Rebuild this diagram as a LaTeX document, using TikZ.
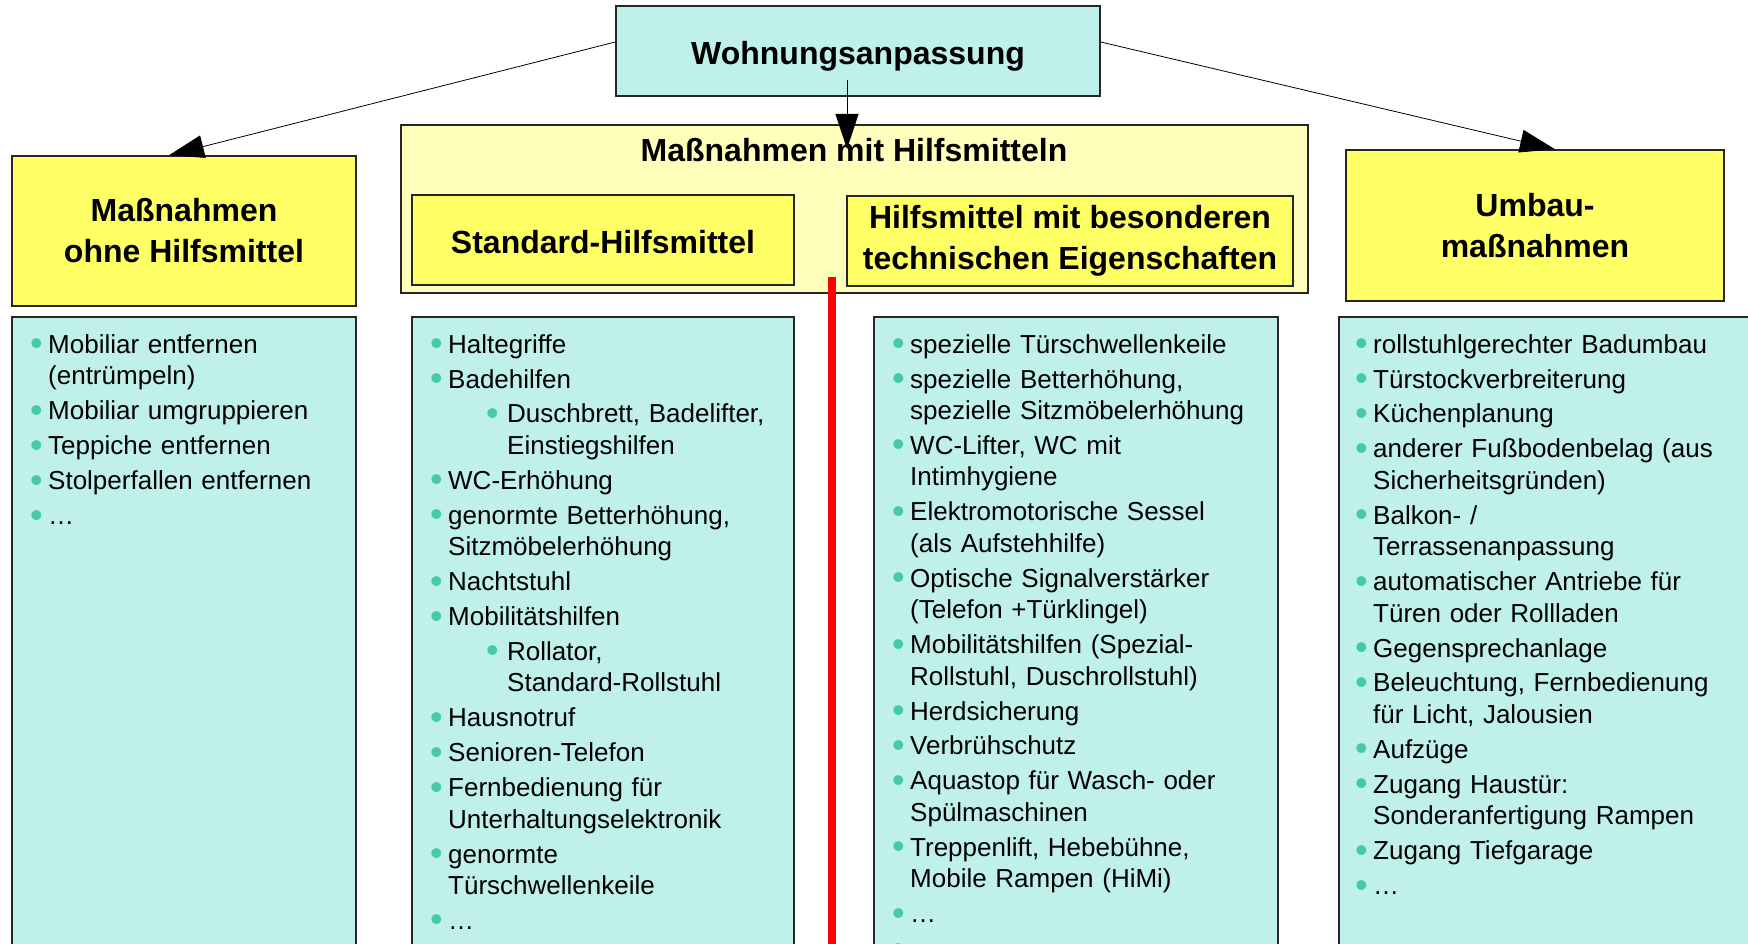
\documentclass[tikz,border=0pt]{standalone}
\usepackage{fontspec}
\setmainfont{Liberation Sans}
\usepackage{xcolor}
\usepackage{graphicx}
\usetikzlibrary{arrows.meta}

\definecolor{boxcyan}{RGB}{191,240,233}
\definecolor{boxyellow}{RGB}{255,255,102}
\definecolor{paleyellow}{RGB}{255,255,187}
\definecolor{bulcol}{RGB}{70,200,175}

% bullets for the lists
\newcommand{\bul}{\textcolor{bulcol}{\raisebox{-2.5pt}{\fontsize{36}{36}\selectfont •}}}
\newcommand{\itm}{\par\leftskip=36pt\relax\strut\llap{\bul\hspace{5.5pt}}}
\newcommand{\sitm}{\par\leftskip=95pt\relax\strut\llap{\bul\hspace{8.5pt}}}

\begin{document}
\begin{tikzpicture}[x=1pt,y=-1pt,
  box/.style={draw=black!85, line width=1.5pt, inner sep=0pt, align=center},
  hdr/.style={box, fill=boxyellow, font=\fontsize{32}{41}\selectfont\bfseries},
  oneline/.style={text height=27pt, text depth=0pt},
  listbox/.style={draw=black!85, line width=1.5pt, fill=boxcyan},
  listtext/.style={anchor=north west, inner sep=0pt, text width=420pt, font=\fontsize{26}{31.5}\selectfont},
  conn/.style={-{Triangle[length=35pt,width=23pt]}, line width=0.8pt},
  divider/.style={red, line width=8pt}]

\useasboundingbox (0,0) rectangle (1748,944);
\clip (0,0) rectangle (1748,944);

%% top
\node[box, oneline, fill=boxcyan, minimum width=484pt, minimum height=90pt,
  font=\fontsize{32}{40}\selectfont\bfseries] (wohn) at (858,51) {Wohnungsanpassung};

%% headers
\node[hdr, minimum width=344pt, minimum height=150pt] (ohne) at (184,231) {Maßnahmen\\ohne Hilfsmittel};

\node[box, fill=paleyellow, minimum width=907pt, minimum height=168pt] (mitH) at (854.5,209) {};
\node[font=\fontsize{32}{40}\selectfont\bfseries, inner sep=0pt] (mitTitle) at (854,150) {Maßnahmen mit Hilfsmitteln};
\node[hdr, oneline, minimum width=382pt, minimum height=90pt] (std) at (603,240) {Standard-Hilfsmittel};
\node[hdr, minimum width=446pt, minimum height=90pt] (bes) at (1070,241) {Hilfsmittel mit besonderen\\technischen Eigenschaften};

\node[hdr, minimum width=378pt, minimum height=151pt] (umbau) at (1535,225.5) {Umbau-\\maßnahmen};

%% lists
\draw[listbox] (12,317) rectangle (356,960);
\draw[listbox] (412,317) rectangle (794,960);
\draw[listbox] (874,317) rectangle (1278,960);
\draw[listbox] (1339,317) rectangle (1760,960);

\node[listtext] (txtOhne) at (12,318) {\raggedright\parskip=3.5pt
\itm Mobiliar entfernen\newline (entrümpeln)
\itm Mobiliar umgruppieren
\itm Teppiche entfernen
\itm Stolperfallen entfernen
\itm …\par};

\node[listtext] (txtStd) at (412,318) {\raggedright\parskip=3.4pt
\itm Haltegriffe
\itm Badehilfen
\sitm Duschbrett, Badelifter,\newline Einstiegshilfen
\itm WC-Erhöhung
\itm genormte Betterhöhung,\newline Sitzmöbelerhöhung
\itm Nachtstuhl
\itm Mobilitätshilfen
\sitm Rollator,\newline Standard-Rollstuhl
\itm Hausnotruf
\itm Senioren-Telefon
\itm Fernbedienung für\newline Unterhaltungselektronik
\itm genormte\newline Türschwellenkeile
\itm …\par};

\node[listtext] (txtBes) at (874,318) {\raggedright\parskip=3.4pt
\itm spezielle Türschwellenkeile
\itm spezielle Betterhöhung,\newline spezielle Sitzmöbelerhöhung
\itm WC-Lifter, WC mit\newline Intimhygiene
\itm Elektromotorische Sessel\newline (als Aufstehhilfe)
\itm Optische Signalverstärker\newline (Telefon +Türklingel)
\itm Mobilitätshilfen (Spezial-\newline Rollstuhl, Duschrollstuhl)
\itm Herdsicherung
\itm Verbrühschutz
\itm Aquastop für Wasch- oder\newline Spülmaschinen
\itm Treppenlift, Hebebühne,\newline Mobile Rampen (HiMi)
\itm …
\itm \par};

\node[listtext] (txtUmbau) at (1337,318) {\raggedright\parskip=3.4pt
\itm rollstuhlgerechter Badumbau
\itm Türstockverbreiterung
\itm Küchenplanung
\itm anderer Fußbodenbelag (aus\newline Sicherheitsgründen)
\itm Balkon- /\newline Terrassenanpassung
\itm automatischer Antriebe für\newline Türen oder Rollladen
\itm Gegensprechanlage
\itm Beleuchtung, Fernbedienung\newline für Licht, Jalousien
\itm Aufzüge
\itm Zugang Haustür:\newline Sonderanfertigung Rampen
\itm Zugang Tiefgarage
\itm …\par};

%% red divider
\draw[divider] (832,277) -- (832,960);

%% arrows
\draw[conn] ([yshift=9pt]wohn.west) -- ([xshift=-15pt]ohne.north);
\draw[conn] ([yshift=9pt]wohn.east) -- ([xshift=20pt]umbau.north);
\draw[conn] ([xshift=-11pt,yshift=-29pt]wohn.center) -- ([xshift=-7pt,yshift=1pt]mitTitle.center);

\end{tikzpicture}
\end{document}
